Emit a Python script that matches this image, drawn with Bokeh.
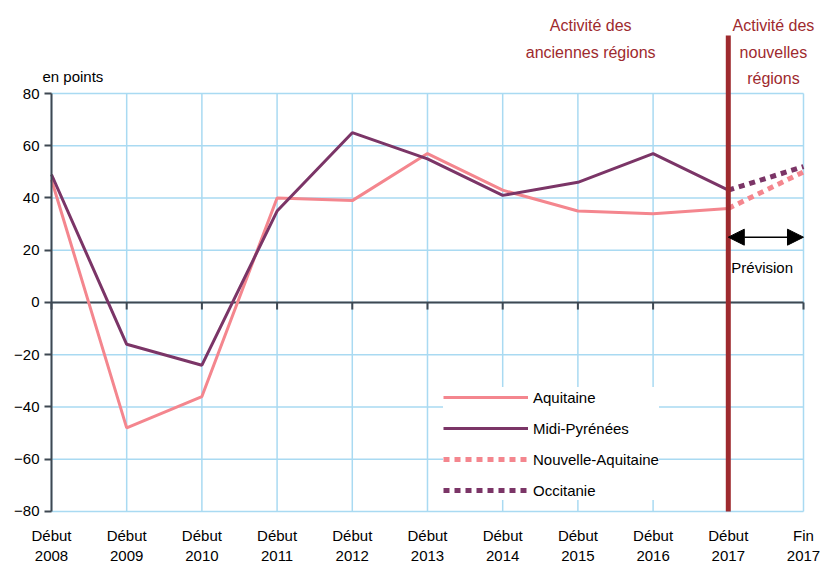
from bokeh.plotting import figure
from bokeh.models import (Range1d, FixedTicker, LinearAxis, Arrow, NormalHead, Legend)
from bokeh.core.properties import value
from bokeh.embed import file_html
from bokeh.resources import INLINE

# ---- data ----
categories = ["Début\n2008", "Début\n2009", "Début\n2010", "Début\n2011", "Début\n2012",
              "Début\n2013", "Début\n2014", "Début\n2015", "Début\n2016", "Début\n2017", "Fin\n2017"]
aquitaine = [47, -48, -36, 40, 39, 57, 43, 35, 34, 36]
midi_pyrenees = [49, -16, -24, 35, 65, 55, 41, 46, 57, 43]
nouvelle_aquitaine = [36, 50]
occitanie = [43, 52]
y_ticks = [-80, -60, -40, -20, 0, 20, 40, 60, 80]

FONT = "Liberation Sans"
PINK = "#F4868E"
PURPLE = "#7B3567"
DARKRED = "#9E2A2E"
GRID = "#A9DAF2"
AXIS = "#3E4852"

xs = list(range(len(categories)))
hist_x = xs[:len(aquitaine)]
fc_x = xs[len(aquitaine) - 1:]
x_first, x_last = xs[0], xs[-1]
y_lo, y_hi = y_ticks[0], y_ticks[-1]

p = figure(width=823, height=570, output_backend="svg", toolbar_location=None,
           x_range=Range1d(-0.678, 10.266), y_range=Range1d(-83.45, 115.6),
           y_axis_location=None,
           min_border_left=0, min_border_right=0, min_border_top=0, min_border_bottom=50)
p.outline_line_color = None
p.background_fill_color = "white"
p.xgrid.visible = False
p.ygrid.visible = False

# grid lines (limited to the data area)
p.segment(x0=xs, y0=[y_lo] * len(xs), x1=xs, y1=[y_hi] * len(xs),
          line_color=GRID, line_width=1.5)
p.segment(x0=[x_first] * len(y_ticks), y0=y_ticks, x1=[x_last] * len(y_ticks), y1=y_ticks,
          line_color=GRID, line_width=1.5)

# y axis at x = 0
yax = LinearAxis(fixed_location=x_first, ticker=FixedTicker(ticks=y_ticks), bounds=(y_lo, y_hi))
yax.axis_line_color = AXIS
yax.axis_line_width = 2
yax.major_tick_line_color = AXIS
yax.major_tick_line_width = 2
yax.major_tick_out = 7
yax.major_tick_in = 0
yax.minor_tick_line_color = None
yax.major_label_text_font = FONT
yax.major_label_text_font_size = "15px"
yax.major_label_text_color = "black"
yax.major_label_standoff = 5
p.add_layout(yax, "left")

# x axis (labels only)
p.xaxis.ticker = FixedTicker(ticks=xs)
p.xaxis.major_label_overrides = {i: c for i, c in enumerate(categories)}
p.xaxis.axis_line_color = None
p.xaxis.major_tick_line_color = None
p.xaxis.minor_tick_line_color = None
p.xaxis.major_label_text_font = FONT
p.xaxis.major_label_text_font_size = "15px"
p.xaxis.major_label_text_color = "black"
p.xaxis.major_label_standoff = 0

# zero line with ticks
p.segment(x0=[x_first], y0=[0], x1=[x_last], y1=[0], line_color=AXIS, line_width=2)
p.segment(x0=xs, y0=[0] * len(xs), x1=xs, y1=[-2.7] * len(xs), line_color=AXIS, line_width=2)

# series
r1 = p.line(hist_x, aquitaine, line_color=PINK, line_width=3)
r2 = p.line(hist_x, midi_pyrenees, line_color=PURPLE, line_width=3)
r3 = p.line(fc_x, nouvelle_aquitaine, line_color=PINK, line_width=5, line_dash="6 5")
r4 = p.line(fc_x, occitanie, line_color=PURPLE, line_width=5, line_dash="6 5")

# red separator bar
p.segment(x0=[9], y0=[y_lo], x1=[9], y1=[102.2], line_color=DARKRED, line_width=5)

# headers
p.text(x=[7.17, 7.17], y=[106, 95.7], text=["Activité des", "anciennes régions"],
       text_font=value(FONT), text_font_size="16px", text_color=DARKRED,
       text_align="center", text_baseline="middle")
p.text(x=[9.60, 9.60, 9.60], y=[106, 95.7, 85.7], text=["Activité des", "nouvelles", "régions"],
       text_font=value(FONT), text_font_size="16px", text_color=DARKRED,
       text_align="center", text_baseline="middle")

# forecast arrow
p.add_layout(Arrow(x_start=9, y_start=25, x_end=10, y_end=25, line_color="black", line_width=1.5,
                   start=NormalHead(size=16, fill_color="black", line_color="black"),
                   end=NormalHead(size=16, fill_color="black", line_color="black")))
p.text(x=[9.45], y=[13.4], text=["Prévision"], text_font=value(FONT), text_font_size="15px",
       text_color="black", text_align="center", text_baseline="middle")

# unit label
p.text(x=[-0.12], y=[86.5], text=["en points"], text_font=value(FONT), text_font_size="15px",
       text_color="black", text_align="left", text_baseline="middle")

legend = Legend(items=[("Aquitaine", [r1]), ("Midi-Pyrénées", [r2]),
                       ("Nouvelle-Aquitaine", [r3]), ("Occitanie", [r4])],
                location=(443, 20), glyph_width=85, glyph_height=20, label_height=20,
                spacing=11, padding=10, margin=0, label_standoff=5,
                label_text_font=FONT, label_text_font_size="15px", label_text_color="black",
                border_line_color=None, background_fill_color="white", background_fill_alpha=1)
p.add_layout(legend)

open("out.html", "w").write(file_html(p, INLINE))
